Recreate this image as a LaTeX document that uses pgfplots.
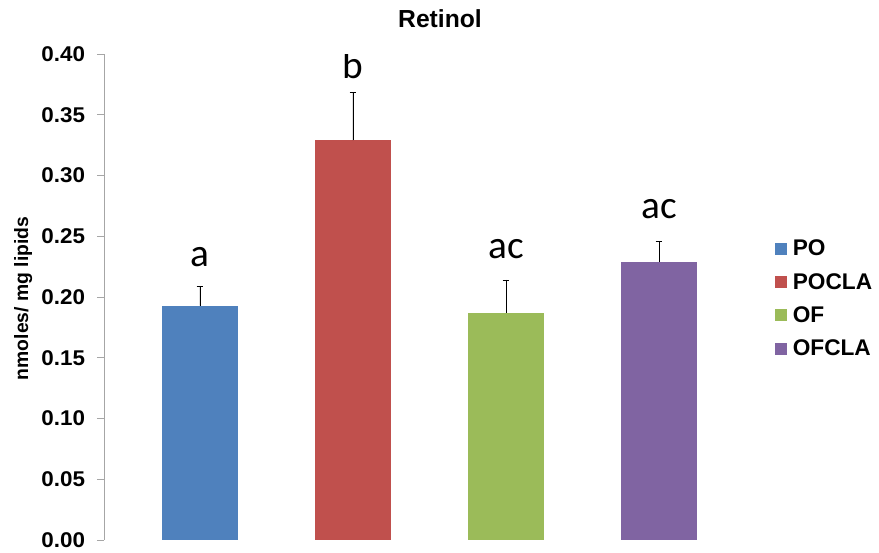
\documentclass[border=0pt]{standalone}
\usepackage{fontspec}
\setmainfont{Liberation Sans}
\newfontfamily\calibri{Carlito}
\usepackage{pgfplots}
\pgfplotsset{compat=1.18}
\definecolor{cPO}{HTML}{4F81BD}
\definecolor{cPOCLA}{HTML}{C0504D}
\definecolor{cOF}{HTML}{9BBB59}
\definecolor{cOFCLA}{HTML}{8064A2}
\begin{document}
\begin{tikzpicture}
\useasboundingbox (-78pt,-9.75pt) rectangle (581.25pt,405pt);
\begin{axis}[
  scale only axis,
  width=488.25pt, height=364.5pt,
  xmin=-0.627, xmax=3.627,
  ymin=0, ymax=0.40,
  ytick={0,0.05,...,0.401},
  yticklabel style={/pgf/number format/fixed, /pgf/number format/fixed zerofill, /pgf/number format/precision=2, /pgf/number format/assume math mode=true,
    font=\fontsize{16}{18}\selectfont\bfseries, xscale=1.05, xshift=-5pt},
  xtick=\empty,
  axis x line=none,
  axis y line*=left,
  y axis line style={gray!70, line width=0.6pt, -},
  ytick style={gray!70, line width=0.6pt},
  tick align=outside,
  major tick length=5.25pt,
  ylabel={nmoles/ mg lipids},
  ylabel style={font=\fontsize{14.5}{16}\selectfont\bfseries, at={(axis description cs:-0.124,0.497)}, anchor=center},
  ybar, bar width=57pt, bar shift=0pt,
  error bars/y dir=plus, error bars/y explicit,
  error bars/error bar style={black, line width=0.6pt},
  error bars/error mark options={black, rotate=90, mark size=2.5pt, line width=0.6pt},
  legend style={draw=none, fill=none, at={(axis description cs:1.031,0.623)}, anchor=north west,
    font=\fontsize{17}{19}\selectfont\bfseries, row sep=7.5pt, inner sep=0pt,
    nodes={inner xsep=4pt}},
  legend cell align=left,
  legend image code/.code={\fill[#1,draw=none] (0pt,-4.5pt) rectangle (9pt,4.5pt);},
]
\addplot[fill=cPO, draw=none] coordinates {(0,0.193) +- (0,0.016)};
\addlegendentry{PO}
\addplot[fill=cPOCLA, draw=none] coordinates {(1,0.329) +- (0,0.039)};
\addlegendentry{POCLA}
\addplot[fill=cOF, draw=none] coordinates {(2,0.187) +- (0,0.027)};
\addlegendentry{OF}
\addplot[fill=cOFCLA, draw=none] coordinates {(3,0.229) +- (0,0.017)};
\addlegendentry{OFCLA}
\node[anchor=base, font=\calibri\fontsize{29.5}{31}\selectfont] at (axis cs:0,0.2255) {a};
\node[anchor=base, font=\calibri\fontsize{29.5}{31}\selectfont] at (axis cs:1,0.380) {b};
\node[anchor=base, font=\calibri\fontsize{29.5}{31}\selectfont] at (axis cs:2,0.232) {ac};
\node[anchor=base, font=\calibri\fontsize{29.5}{31}\selectfont] at (axis cs:3,0.265) {ac};
\end{axis}
\node[anchor=base, font=\fontsize{18.5}{20}\selectfont\bfseries] at (252pt,384pt) {Retinol};
\end{tikzpicture}
\end{document}
